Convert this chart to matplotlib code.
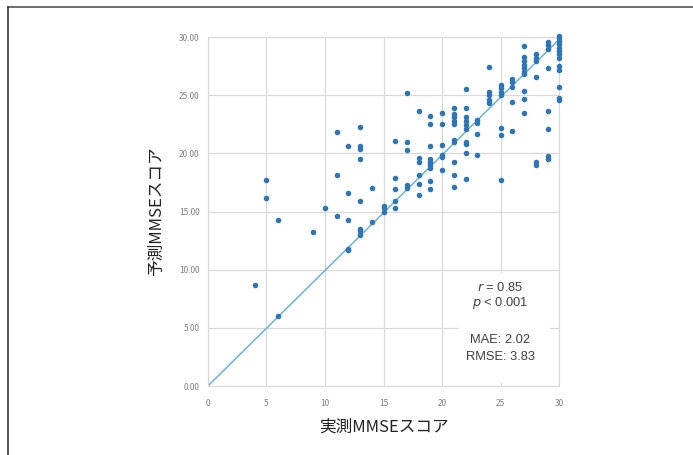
import matplotlib.pyplot as plt
from matplotlib.lines import Line2D
from matplotlib.patches import Rectangle

plt.rcParams['font.family'] = ['Noto Sans CJK JP', 'DejaVu Sans']

# 実測MMSE (x) と 予測MMSE (y)
actual_by_score = {
    4: [8.7],
    5: [17.7, 16.2],
    6: [14.3, 6.0],
    9: [13.25],
    10: [15.3],
    11: [21.8, 18.1, 14.65],
    12: [20.65, 16.55, 14.3, 11.8, 11.65],
    13: [22.3, 20.65, 20.4, 19.5, 15.9, 13.5, 13.3, 13.0],
    14: [17.0, 14.1],
    15: [15.5, 15.3, 15.0],
    16: [21.1, 17.9, 16.9, 15.9, 15.3],
    17: [25.15, 21.0, 20.3, 17.3, 17.0],
    18: [23.6, 19.6, 19.3, 18.1, 17.4, 16.4],
    19: [23.2, 22.5, 20.6, 19.5, 19.3, 19.0, 18.75, 17.6, 16.9],
    20: [23.5, 22.5, 20.7, 19.9, 19.65, 18.6],
    21: [23.9, 23.4, 23.1, 22.75, 22.5, 21.15, 21.0, 19.3, 18.1, 17.1],
    22: [25.5, 23.9, 23.1, 22.75, 22.4, 22.1, 21.0, 20.8, 20.0, 17.8],
    23: [22.9, 22.6, 21.7, 19.9],
    24: [27.4, 25.3, 25.0, 24.6, 24.3],
    25: [25.9, 25.6, 25.3, 25.0, 22.2, 21.6, 17.7],
    26: [26.4, 26.1, 25.7, 24.4, 21.9],
    27: [29.2, 28.3, 27.9, 27.6, 27.3, 27.0, 26.8, 25.4, 24.7, 23.5],
    28: [28.5, 28.2, 27.9, 26.6, 19.3, 19.0],
    29: [29.6, 29.3, 29.0, 27.3, 23.6, 22.1, 19.75, 19.5],
    30: [30.1, 29.9, 29.7, 29.4, 29.1, 28.8, 28.5, 28.2, 27.5, 27.2, 25.7, 24.8, 24.6],
}
actual = [k for k, v in actual_by_score.items() for _ in v]
predicted = [p for v in actual_by_score.values() for p in v]

fit_x = [0, 30]
fit_y = [0, 29.8]

x_ticks = [0, 5, 10, 15, 20, 25, 30]
y_ticks = [0, 5, 10, 15, 20, 25, 30]

stats_lines = ['$r$ = 0.85', '$p$ < 0.001', 'MAE: 2.02', 'RMSE: 3.83']
stats_y = [8.5, 7.15, 3.95, 2.5]

fig = plt.figure(figsize=(6.93, 4.55), dpi=100)
ax = fig.add_axes([0.300, 0.1516, 0.507, 0.767])

ax.plot(fit_x, fit_y, color='#6bb2d6', lw=1.1, zorder=2)
ax.scatter(actual, predicted, s=16, color='#2e75b6', zorder=3, clip_on=False, linewidths=0)

ax.set_xlim(0, 30)
ax.set_ylim(0, 30)
ax.set_xticks(x_ticks)
ax.set_yticks(y_ticks)
ax.set_xticklabels([str(t) for t in x_ticks])
ax.set_yticklabels([f'{t:.2f}' for t in y_ticks])
ax.tick_params(length=0, labelsize=6, labelcolor='#808080')
ax.tick_params(axis='x', pad=9)
ax.tick_params(axis='y', pad=6)
ax.grid(True, color='#d9d9d9', lw=0.9, zorder=0)
ax.set_axisbelow(True)
for s in ax.spines.values():
    s.set_color('#d9d9d9')

ax.set_xlabel('実測MMSEスコア', fontsize=12, labelpad=8, color='#222222')
ax.set_ylabel('予測MMSEスコア', fontsize=12, labelpad=10, color='#222222')

# white box behind the statistics
ax.add_patch(Rectangle((21.4, 0.25), 7.8, 9.45, facecolor='white', edgecolor='none', zorder=1))
for txt, yy in zip(stats_lines, stats_y):
    ax.text(24.95, yy, txt, ha='center', va='center', fontsize=9.3, color='#404040',
            family=['Liberation Sans', 'DejaVu Sans'], zorder=4)

# frame lines at top and left of the image
fig.add_artist(Line2D([0.012, 1.0], [0.985, 0.985], color='#555555', lw=1.2))
fig.add_artist(Line2D([0.012, 0.012], [0.0, 0.985], color='#333333', lw=1.2))

fig.savefig('out.png', dpi=100)
